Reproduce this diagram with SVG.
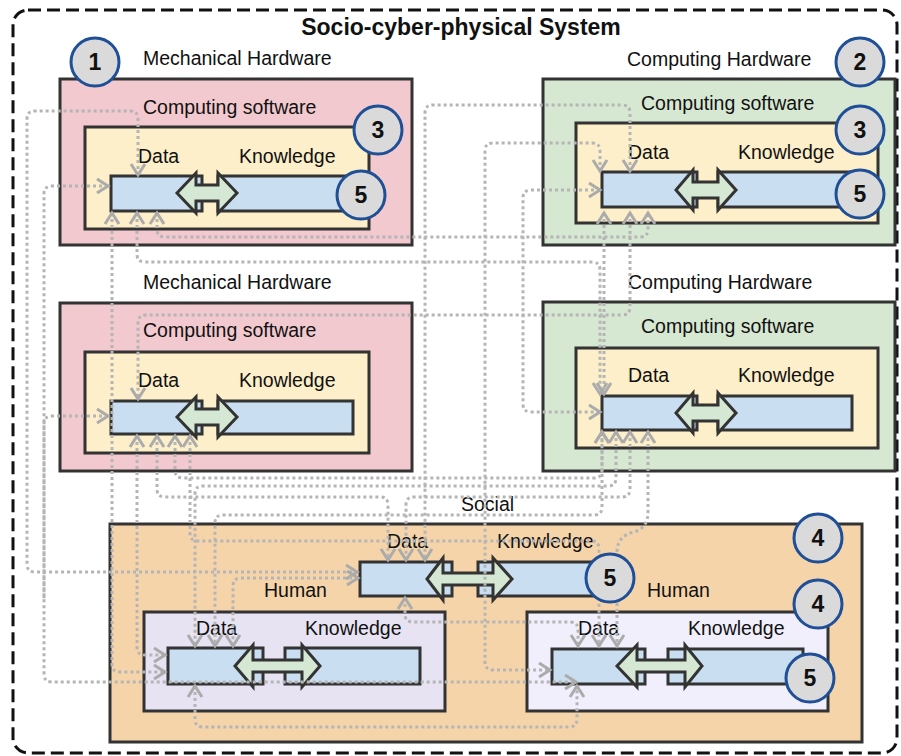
<svg xmlns="http://www.w3.org/2000/svg" width="901" height="756" viewBox="0 0 901 756">
  <defs>
    <style>
      text { font-family: "Liberation Sans", Arial, sans-serif; font-size: 19.5px; fill: #111; }
      .title { font-size: 23px; font-weight: bold; }
      .frame { fill: none; stroke: #111; stroke-width: 3; stroke-dasharray: 13 6; }
      .box { stroke: #333; stroke-width: 3; }
      .mech { fill: #f1c9cf; }
      .comp { fill: #d6e7d2; }
      .soft { fill: #fdefc9; }
      .social { fill: #f6d4aa; }
      .humanA { fill: #e7e3f2; }
      .humanB { fill: #f2effd; }
      .bar { fill: #c9def1; stroke: #333; stroke-width: 3; }
      .dx { fill: #d5e8d4; stroke: #333; stroke-width: 3; stroke-linejoin: miter; }
      .badge circle { fill: #dadada; stroke: #1f4f96; stroke-width: 3; }
      .badge text { font-size: 23px; font-weight: bold; text-anchor: middle; }
      .link { fill: none; stroke: #b5b5b5; stroke-width: 3; stroke-dasharray: 3 3; marker-start: url(#chev); marker-end: url(#chev); }
      .link.tail { marker-end: none; }
    </style>
    <marker id="chev" viewBox="-2 -2 16 18" refX="11" refY="7" markerWidth="16" markerHeight="18" markerUnits="userSpaceOnUse" orient="auto-start-reverse">
      <path d="M0,0 L11,7 L0,14" fill="none" stroke="#ababab" stroke-width="3" stroke-dasharray="none"/>
    </marker>
  </defs>

  <rect width="901" height="756" fill="#fff"/>

  <!-- outer system boundary -->
  <rect class="frame" x="13" y="10" width="884" height="743" rx="15"/>
  <text class="title" x="461" y="35" text-anchor="middle">Socio-cyber-physical System</text>

  <!-- mechanical hardware, top -->
  <g id="mech-top">
    <text x="143" y="65">Mechanical Hardware</text>
    <rect class="box mech" x="60" y="79" width="352" height="166"/>
    <text x="143" y="114">Computing software</text>
    <rect class="box soft" x="85" y="127" width="284" height="102"/>
    <text x="138" y="163">Data</text>
    <text x="239" y="163">Knowledge</text>
    <rect class="bar" x="111" y="176" width="91" height="35"/>
    <rect class="bar" x="218" y="176" width="137" height="35"/>
    <path class="dx" d="M177,193 L196,173 L196,185 L218,185 L218,173 L237,193 L218,213 L218,201 L196,201 L196,213 Z"/>
  </g>

  <!-- computing hardware, top -->
  <g id="comp-top">
    <text x="627" y="66">Computing Hardware</text>
    <rect class="box comp" x="543" y="79" width="352" height="166"/>
    <text x="641" y="110">Computing software</text>
    <rect class="box soft" x="576" y="123" width="302" height="100"/>
    <text x="628" y="159">Data</text>
    <text x="738" y="159">Knowledge</text>
    <rect class="bar" x="602" y="172" width="95" height="35"/>
    <rect class="bar" x="718" y="172" width="132" height="35"/>
    <path class="dx" d="M676,190 L693,170 L693,182 L718,182 L718,170 L736,190 L718,210 L718,198 L693,198 L693,210 Z"/>
  </g>

  <!-- mechanical hardware, middle -->
  <g id="mech-mid">
    <text x="143" y="289">Mechanical Hardware</text>
    <rect class="box mech" x="60" y="303" width="352" height="168"/>
    <text x="143" y="337">Computing software</text>
    <rect class="box soft" x="85" y="352" width="284" height="101"/>
    <text x="138" y="387">Data</text>
    <text x="239" y="387">Knowledge</text>
    <rect class="bar" x="111" y="401" width="91" height="33"/>
    <rect class="bar" x="218" y="401" width="135" height="33"/>
    <path class="dx" d="M177,417 L196,397 L196,409 L218,409 L218,397 L237,417 L218,437 L218,425 L196,425 L196,437 Z"/>
  </g>

  <!-- computing hardware, middle -->
  <g id="comp-mid">
    <text x="628" y="289">Computing Hardware</text>
    <rect class="box comp" x="543" y="302" width="352" height="169"/>
    <text x="641" y="333">Computing software</text>
    <rect class="box soft" x="576" y="348" width="302" height="100"/>
    <text x="628" y="382">Data</text>
    <text x="738" y="382">Knowledge</text>
    <rect class="bar" x="602" y="396" width="95" height="34"/>
    <rect class="bar" x="718" y="396" width="134" height="34"/>
    <path class="dx" d="M676,413 L693,393 L693,405 L718,405 L718,393 L736,413 L718,433 L718,421 L693,421 L693,433 Z"/>
  </g>

  <!-- social layer -->
  <g id="social">
    <text x="461" y="511">Social</text>
    <rect class="box social" x="110" y="524" width="752" height="218"/>
    <text x="387" y="548">Data</text>
    <text x="497" y="548">Knowledge</text>
    <rect class="bar" x="360" y="562" width="92" height="34"/>
    <rect class="bar" x="478" y="562" width="122" height="34"/>
    <path class="dx" d="M427,579 L443,558 L443,573 L493,573 L493,558 L512,579 L493,600 L493,585 L443,585 L443,600 Z"/>
  </g>

  <!-- human, left -->
  <g id="human-left">
    <text x="264" y="597">Human</text>
    <rect class="box humanA" x="144" y="612" width="301" height="99"/>
    <text x="196" y="635">Data</text>
    <text x="305" y="635">Knowledge</text>
    <rect class="bar" x="168" y="648" width="95" height="36"/>
    <rect class="bar" x="285" y="648" width="135" height="36"/>
    <path class="dx" d="M235,666 L253,645 L253,660 L302,660 L302,645 L320,666 L302,687 L302,672 L253,672 L253,687 Z"/>
  </g>

  <!-- human, right -->
  <g id="human-right">
    <text x="647" y="597">Human</text>
    <rect class="box humanB" x="527" y="612" width="301" height="99"/>
    <text x="578" y="635">Data</text>
    <text x="688" y="635">Knowledge</text>
    <rect class="bar" x="552" y="649" width="93" height="35"/>
    <rect class="bar" x="668" y="649" width="135" height="35"/>
    <path class="dx" d="M617,666 L637,645 L637,660 L685,660 L685,645 L702,666 L685,687 L685,672 L637,672 L637,687 Z"/>
  </g>

  <!-- data exchange links -->
  <g id="links">
    <path class="link" d="M138,175 V119 Q138,111 130,111 H35 Q27,111 27,119 V564 Q27,572 35,572 H357"/>
    <path class="link" d="M108,186 H52 Q44,186 44,194 V674 Q44,682 52,682 H576"/>
    <path class="link" d="M112,213 V664 Q112,672 120,672 H165"/>
    <path class="link" d="M137,213 V254 Q137,262 145,262 H592 Q600,262 600,270 V394"/>
    <path class="link" d="M157,213 V229 Q157,237 165,237 H640 Q648,237 648,229 V213"/>
    <path class="link" d="M630,171 V113 Q630,105 622,105 H433 Q425,105 425,113 V560"/>
    <path class="link" d="M600,171 V151 Q600,143 592,143 H493 Q485,143 485,151 V662 Q485,670 493,670 H550"/>
    <path class="link" d="M600,190 H531 Q523,190 523,198 V404 Q523,412 531,412 H600"/>
    <path class="link" d="M630,213 V307 Q630,315 622,315 H146 Q138,315 138,323 V399"/>
    <path class="link" d="M604,213 V394"/>
    <path class="link tail" d="M108,416 H52 Q44,416 44,424 V600"/>
    <path class="link" d="M137,436 V647 Q137,655 145,655 H165"/>
    <path class="link" d="M157,436 V489 Q157,497 165,497 H380 Q388,497 388,505 V560"/>
    <path class="link" d="M175,436 V470 Q175,478 183,478 H594 Q602,478 602,470 V432"/>
    <path class="link" d="M190,436 V533 Q190,541 198,541 H591 Q599,541 599,549 V646"/>
    <path class="link" d="M648,432 V512 Q648,528 634,532 Q617,536 617,552 V646"/>
    <path class="link" d="M630,432 V489 Q630,497 622,497 H414 Q406,497 406,505 V560"/>
    <path class="link" d="M616,432 V478 Q616,486 608,486 H203 Q195,486 195,494 V646"/>
    <path class="link" d="M602,432 V507 Q602,515 594,515 H223 Q215,515 215,523 V646"/>
    <path class="link" d="M358,578 H241 Q233,578 233,586 V646"/>
    <path class="link" d="M195,686 V719 Q195,727 203,727 H569 Q577,727 577,719 V686"/>
    <path class="link" d="M405,598 V614 Q405,622 413,622 H570 Q578,622 578,630 V646"/>
  </g>

  <!-- numbered markers -->
  <g id="badge-1" class="badge"><circle cx="95" cy="62" r="24"/><text x="95" y="70">1</text></g>
  <g id="badge-2" class="badge"><circle cx="860" cy="62" r="24"/><text x="860" y="70">2</text></g>
  <g id="badge-3a" class="badge"><circle cx="378" cy="130" r="24"/><text x="378" y="138">3</text></g>
  <g id="badge-3b" class="badge"><circle cx="860" cy="130" r="24"/><text x="860" y="138">3</text></g>
  <g id="badge-5a" class="badge"><circle cx="361" cy="195" r="24"/><text x="361" y="203">5</text></g>
  <g id="badge-5b" class="badge"><circle cx="860" cy="194" r="24"/><text x="860" y="202">5</text></g>
  <g id="badge-4a" class="badge"><circle cx="818" cy="538" r="24"/><text x="818" y="546">4</text></g>
  <g id="badge-5c" class="badge"><circle cx="610" cy="578" r="24"/><text x="610" y="586">5</text></g>
  <g id="badge-4b" class="badge"><circle cx="818" cy="604" r="24"/><text x="818" y="612">4</text></g>
  <g id="badge-5d" class="badge"><circle cx="810" cy="678" r="24"/><text x="810" y="686">5</text></g>
</svg>
